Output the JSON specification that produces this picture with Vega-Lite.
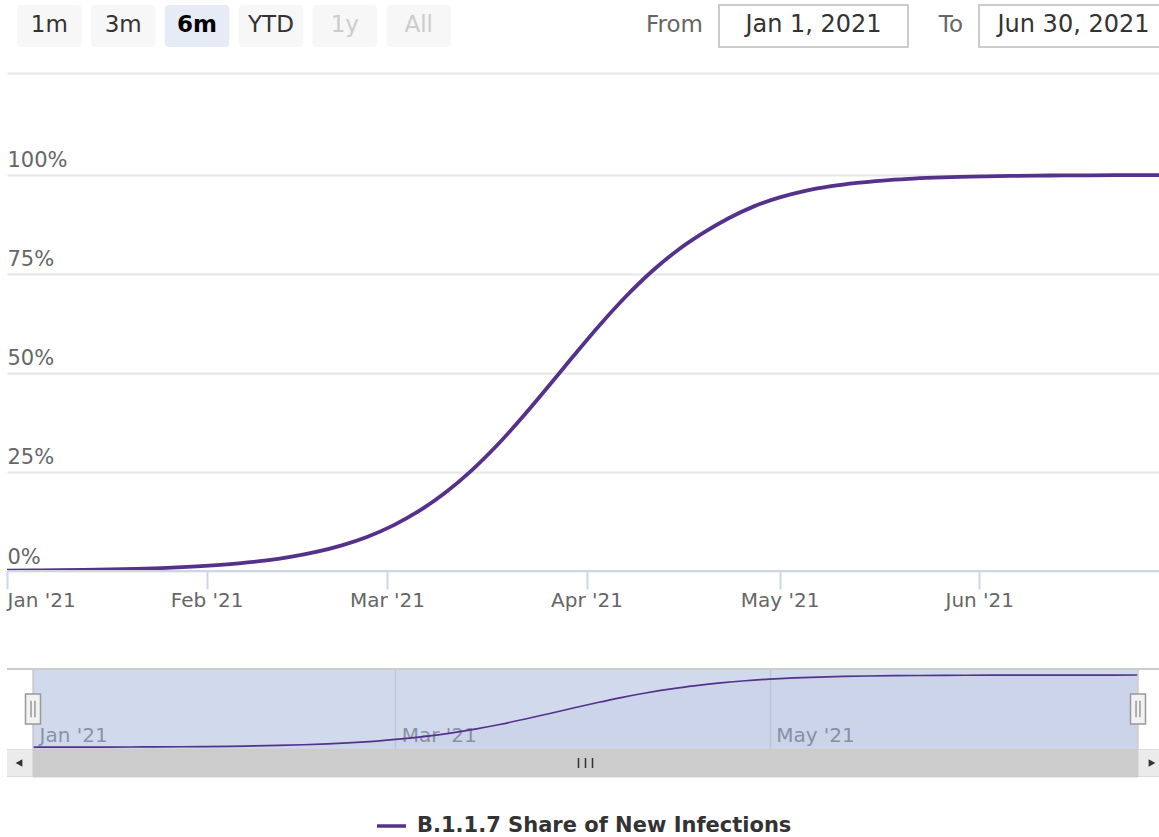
{
  "$schema": "https://vega.github.io/schema/vega-lite/v6.json",
  "autosize": {"type": "pad"},
  "padding": {"left": 6, "top": 0, "right": 0, "bottom": 0},
  "background": "white",
  "config": {"view": {"stroke": null}, "font": "DejaVu Sans"},
  "bounds": "flush",
  "spacing": 0,
  "datasets": {
    "series": [
      {"date": "2021-01-01", "share": 0.11},
      {"date": "2021-01-05", "share": 0.16},
      {"date": "2021-01-09", "share": 0.21},
      {"date": "2021-01-13", "share": 0.29},
      {"date": "2021-01-17", "share": 0.40},
      {"date": "2021-01-21", "share": 0.55},
      {"date": "2021-01-25", "share": 0.75},
      {"date": "2021-01-29", "share": 1.03},
      {"date": "2021-02-02", "share": 1.41},
      {"date": "2021-02-06", "share": 1.92},
      {"date": "2021-02-10", "share": 2.61},
      {"date": "2021-02-14", "share": 3.55},
      {"date": "2021-02-18", "share": 4.81},
      {"date": "2021-02-22", "share": 6.48},
      {"date": "2021-02-26", "share": 8.67},
      {"date": "2021-03-02", "share": 11.53},
      {"date": "2021-03-06", "share": 15.16},
      {"date": "2021-03-10", "share": 19.69},
      {"date": "2021-03-14", "share": 25.16},
      {"date": "2021-03-18", "share": 31.56},
      {"date": "2021-03-22", "share": 38.74},
      {"date": "2021-03-26", "share": 46.45},
      {"date": "2021-03-30", "share": 54.34},
      {"date": "2021-04-03", "share": 62.01},
      {"date": "2021-04-07", "share": 69.13},
      {"date": "2021-04-11", "share": 75.44},
      {"date": "2021-04-15", "share": 80.82},
      {"date": "2021-04-19", "share": 85.25},
      {"date": "2021-04-23", "share": 89.02},
      {"date": "2021-04-27", "share": 92.07},
      {"date": "2021-05-01", "share": 94.33},
      {"date": "2021-05-05", "share": 95.98},
      {"date": "2021-05-09", "share": 97.16},
      {"date": "2021-05-13", "share": 98.00},
      {"date": "2021-05-17", "share": 98.60},
      {"date": "2021-05-21", "share": 99.02},
      {"date": "2021-05-25", "share": 99.31},
      {"date": "2021-05-29", "share": 99.52},
      {"date": "2021-06-02", "share": 99.66},
      {"date": "2021-06-06", "share": 99.77},
      {"date": "2021-06-10", "share": 99.84},
      {"date": "2021-06-14", "share": 99.89},
      {"date": "2021-06-18", "share": 99.92},
      {"date": "2021-06-22", "share": 99.94},
      {"date": "2021-06-26", "share": 99.96},
      {"date": "2021-06-30", "share": 99.97}
    ],
    "buttons": [
      {"label": "1m", "state": "normal"},
      {"label": "3m", "state": "normal"},
      {"label": "6m", "state": "selected"},
      {"label": "YTD", "state": "normal"},
      {"label": "1y", "state": "disabled"},
      {"label": "All", "state": "disabled"}
    ],
    "inputs": [
      {"label": "From", "value": "Jan 1, 2021"},
      {"label": "To", "value": "Jun 30, 2021"}
    ],
    "range": [{"start": "2021-01-01", "end": "2021-06-30"}],
    "ends": [{"date": "2021-01-01"}, {"date": "2021-06-30"}]
  },
  "vconcat": [
    {
      "width": 1152,
      "height": 73,
      "resolve": {"scale": {"x": "independent"}},
      "layer": [
        {
          "data": {"name": "buttons"},
          "mark": {"type": "rect", "cornerRadius": 4},
          "encoding": {
            "x": {"field": "label", "type": "nominal", "sort": null, "axis": null,
              "scale": {"type": "band", "domain": ["1m", "3m", "6m", "YTD", "1y", "All"], "range": [10, 444], "paddingInner": 0.126, "paddingOuter": 0}},
            "y": {"datum": "t", "type": "nominal", "axis": null, "scale": {"range": [5, 47], "paddingInner": 0, "paddingOuter": 0}},
            "fill": {"condition": {"test": "datum.state === 'selected'", "value": "#e6ebf5"}, "value": "#f7f7f7"}
          }
        },
        {
          "data": {"name": "buttons"},
          "transform": [{"filter": "datum.state !== 'selected'"}],
          "mark": {"type": "text", "fontSize": 23, "font": "DejaVu Sans", "baseline": "middle", "align": "center", "dy": -1},
          "encoding": {
            "x": {"field": "label", "type": "nominal", "sort": null, "axis": null,
              "scale": {"type": "band", "domain": ["1m", "3m", "6m", "YTD", "1y", "All"], "range": [10, 444], "paddingInner": 0.126, "paddingOuter": 0}},
            "y": {"datum": "t", "type": "nominal", "axis": null},
            "text": {"field": "label"},
            "color": {"condition": {"test": "datum.state === 'disabled'", "value": "#cccccc"}, "value": "#333333"}
          }
        },
        {
          "data": {"name": "buttons"},
          "transform": [{"filter": "datum.state === 'selected'"}],
          "mark": {"type": "text", "fontSize": 23, "font": "DejaVu Sans", "fontWeight": "bold", "baseline": "middle", "align": "center", "color": "#000000", "dy": -1},
          "encoding": {
            "x": {"field": "label", "type": "nominal", "sort": null, "axis": null,
              "scale": {"type": "band", "domain": ["1m", "3m", "6m", "YTD", "1y", "All"], "range": [10, 444], "paddingInner": 0.126, "paddingOuter": 0}},
            "y": {"datum": "t", "type": "nominal", "axis": null},
            "text": {"field": "label"}
          }
        },
        {
          "data": {"name": "inputs"},
          "mark": {"type": "rect", "fill": "white", "stroke": "#cccccc", "strokeWidth": 2, "clip": true},
          "encoding": {
            "x": {"field": "label", "type": "nominal", "sort": null, "axis": null,
              "scale": {"type": "band", "domain": ["From", "To"], "range": [712, 1161], "paddingInner": 0.273, "paddingOuter": 0}},
            "y": {"datum": "t", "type": "nominal", "axis": null}
          }
        },
        {
          "data": {"name": "inputs"},
          "mark": {"type": "text", "fontSize": 24, "font": "DejaVu Sans", "baseline": "middle", "align": "center", "color": "#333333", "dy": -1},
          "encoding": {
            "x": {"field": "label", "type": "nominal", "sort": null, "axis": null, "bandPosition": 0.5,
              "scale": {"type": "band", "domain": ["From", "To"], "range": [712, 1161], "paddingInner": 0.273, "paddingOuter": 0}},
            "y": {"datum": "t", "type": "nominal", "axis": null},
            "text": {"field": "value"}
          }
        },
        {
          "data": {"name": "inputs"},
          "mark": {"type": "text", "fontSize": 23, "font": "DejaVu Sans", "baseline": "middle", "align": "right", "dx": -16, "dy": -1, "color": "#666666"},
          "encoding": {
            "x": {"field": "label", "type": "nominal", "sort": null, "axis": null, "bandPosition": 0,
              "scale": {"type": "band", "domain": ["From", "To"], "range": [712, 1161], "paddingInner": 0.273, "paddingOuter": 0}},
            "y": {"datum": "t", "type": "nominal", "axis": null},
            "text": {"field": "label"}
          }
        }
      ]
    },
    {
      "width": 1152,
      "height": 498,
      "layer": [
        {
          "data": {"name": "series"},
          "mark": {"type": "line", "interpolate": "monotone", "strokeWidth": 3.8, "clip": true},
          "encoding": {
            "x": {
              "field": "date", "type": "temporal",
              "scale": {"type": "utc", "domain": [{"year": 2021, "month": 1, "date": 1, "utc": true}, {"year": 2021, "month": 6, "date": 30, "utc": true}], "range": [0, 1159]},
              "axis": {"title": null, "grid": false, "orient": "bottom", "domain": false, "tickColor": "#ccd6eb", "tickWidth": 2, "tickSize": 18,
                "labelColor": "#666666", "labelFontSize": 20, "labelFont": "DejaVu Sans", "labelPadding": 1, "labelFlush": true, "labelOverlap": false,
                "format": "%b '%y", "tickCount": {"interval": "month", "step": 1}}
            },
            "y": {
              "field": "share", "type": "quantitative",
              "scale": {"domain": [0, 125.75], "nice": false, "zero": false},
              "axis": {"title": null, "orient": "left", "domain": false, "ticks": false, "tickSize": 0, "values": [0, 25, 50, 75, 100, 125.75],
                "grid": true, "gridColor": "#e6e6e6", "gridWidth": 2,
                "labelAlign": "left", "labelBaseline": "alphabetic", "labelPadding": 0, "labelOffset": -8,
                "labelFontSize": 21, "labelFont": "DejaVu Sans", "labelColor": "#666666", "labelOverlap": false,
                "labelExpr": "datum.value > 100 ? '' : datum.value + '%'"}
            },
            "color": {
              "datum": "B.1.1.7 Share of New Infections",
              "type": "nominal",
              "scale": {"range": ["#54318a"]},
              "legend": {"orient": "none", "legendX": 368, "legendY": 809.5, "title": null, "padding": 0,
                "symbolType": "stroke", "symbolSize": 841, "symbolStrokeWidth": 3.5,
                "labelFontSize": 21, "labelFont": "DejaVu Sans", "labelFontWeight": "bold", "labelColor": "#333333", "labelOffset": 9, "labelLimit": 0}
            }
          }
        },
        {
          "data": {"name": "range"},
          "mark": {"type": "rule", "color": "#ccd6eb", "strokeWidth": 2},
          "encoding": {
            "y": {"datum": 0, "type": "quantitative"}
          }
        }
      ]
    },
    {
      "width": 1152,
      "height": 98,
      "data": {"values": [{}]},
      "mark": {"type": "text"},
      "encoding": {"text": {"value": ""}}
    },
    {
      "width": 1152,
      "height": 80,
      "layer": [
        {
          "data": {"name": "series"},
          "mark": {"type": "area", "color": "#54318a", "fillOpacity": 0.04, "interpolate": "monotone"},
          "encoding": {
            "x": {"field": "date", "type": "temporal",
              "scale": {"type": "utc", "domain": [{"year": 2021, "month": 1, "date": 1, "utc": true}, {"year": 2021, "month": 6, "date": 30, "utc": true}], "range": [26, 1131]},
              "axis": {"title": null, "orient": "bottom", "grid": true, "gridColor": "#e6e6e6", "gridWidth": 1.5, "domain": false, "ticks": false, "tickSize": 0,
                "labelAlign": "left", "labelBaseline": "alphabetic", "labelPadding": -8, "labelOffset": 6, "labelFlush": false, "labelOverlap": false,
                "labelColor": "#999999", "labelFontSize": 20, "labelFont": "DejaVu Sans", "format": "%b '%y", "tickCount": {"interval": "month", "step": 2}}},
            "y": {"field": "share", "type": "quantitative", "axis": null, "scale": {"domain": [-2.35, 108.3], "nice": false, "zero": false}}
          }
        },
        {
          "data": {"name": "range"},
          "mark": {"type": "rect", "fill": "#6685c2", "fillOpacity": 0.3},
          "encoding": {
            "x": {"field": "start", "type": "temporal"},
            "x2": {"field": "end"}
          }
        },
        {
          "data": {"name": "series"},
          "mark": {"type": "line", "color": "#54318a", "strokeWidth": 1.7, "interpolate": "monotone"},
          "encoding": {
            "x": {"field": "date", "type": "temporal"},
            "y": {"field": "share", "type": "quantitative"}
          }
        },
        {
          "data": {"name": "range"},
          "mark": {"type": "rule", "color": "#cccccc", "strokeWidth": 2},
          "encoding": {
            "y": {"datum": 108.3, "type": "quantitative"}
          }
        },
        {
          "data": {"name": "ends"},
          "mark": {"type": "rule", "color": "#cccccc", "strokeWidth": 1.5},
          "encoding": {
            "x": {"field": "date", "type": "temporal"}
          }
        },
        {
          "data": {"name": "ends"},
          "mark": {"type": "point", "shape": "M-0.5,-1L0.5,-1L0.5,1L-0.5,1Z", "size": 900, "filled": true, "fill": "#f2f2f2", "stroke": "#999999", "strokeWidth": 1.5, "opacity": 1},
          "encoding": {
            "x": {"field": "date", "type": "temporal"}
          }
        },
        {
          "data": {"name": "ends"},
          "mark": {"type": "point", "shape": "M-0.13,-0.55L-0.13,0.55M0.13,-0.55L0.13,0.55", "size": 900, "filled": false, "stroke": "#999999", "strokeWidth": 1.5, "opacity": 1},
          "encoding": {
            "x": {"field": "date", "type": "temporal"}
          }
        }
      ]
    },
    {
      "width": 1152,
      "height": 28,
      "data": {"name": "range"},
      "layer": [
        {
          "mark": {"type": "rect", "fill": "#cccccc", "stroke": "#cccccc", "strokeWidth": 1},
          "encoding": {
            "x": {"field": "start", "type": "temporal", "axis": null,
              "scale": {"type": "utc", "domain": [{"year": 2021, "month": 1, "date": 1, "utc": true}, {"year": 2021, "month": 6, "date": 30, "utc": true}], "range": [26, 1131]}},
            "x2": {"field": "end"}
          }
        },
        {
          "mark": {"type": "point", "shape": "square", "size": 784, "filled": true, "fill": "#ebebeb", "stroke": "#cccccc", "strokeWidth": 1, "opacity": 1, "xOffset": -14, "clip": true},
          "encoding": {"x": {"field": "start", "type": "temporal"}}
        },
        {
          "mark": {"type": "point", "shape": "square", "size": 784, "filled": true, "fill": "#ebebeb", "stroke": "#cccccc", "strokeWidth": 1, "opacity": 1, "xOffset": 14, "clip": true},
          "encoding": {"x": {"field": "end", "type": "temporal"}}
        },
        {
          "mark": {"type": "point", "shape": "triangle-left", "size": 60, "filled": true, "fill": "#333333", "opacity": 1, "xOffset": -14, "clip": true},
          "encoding": {"x": {"field": "start", "type": "temporal"}}
        },
        {
          "mark": {"type": "point", "shape": "triangle-right", "size": 60, "filled": true, "fill": "#333333", "opacity": 1, "xOffset": 14, "clip": true},
          "encoding": {"x": {"field": "end", "type": "temporal"}}
        },
        {
          "mark": {"type": "point", "shape": "M-1,-0.7L-1,0.7M0,-0.7L0,0.7M1,-0.7L1,0.7", "size": 196, "filled": false, "stroke": "#333333", "strokeWidth": 1.5, "opacity": 1},
          "encoding": {"x": {"datum": {"year": 2021, "month": 4, "date": 1, "utc": true}, "type": "temporal"}}
        }
      ]
    },
    {
      "width": 1152,
      "height": 60,
      "data": {"values": [{}]},
      "mark": {"type": "text"},
      "encoding": {"text": {"value": ""}}
    }
  ]
}
